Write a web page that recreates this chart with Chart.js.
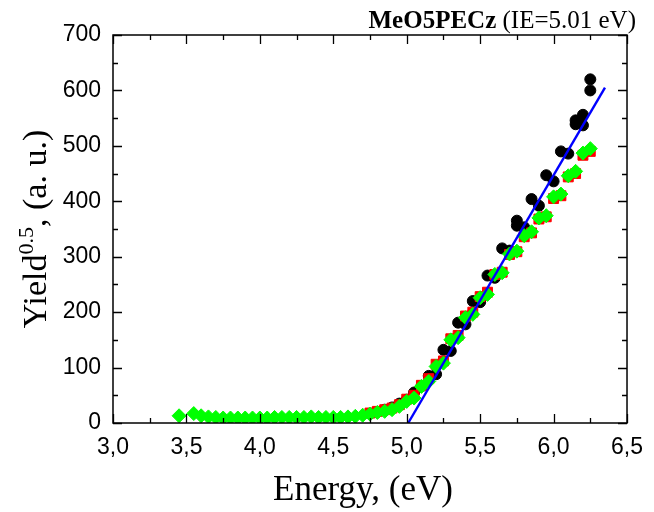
<!DOCTYPE html>
<html>
<head>
<meta charset="utf-8">
<script src="https://cdn.jsdelivr.net/npm/chart.js@4.4.1/dist/chart.umd.min.js"></script>
<style>
html,body{margin:0;padding:0;background:#fff;}
#wrap{width:654px;height:512px;}
</style>
</head>
<body>
<div id="wrap"><canvas id="c" width="654" height="512"></canvas></div>
<script>
// ---- data ----
const greenE = [3.45,3.55,3.60,3.65,3.70,3.75,3.80,3.85,3.90,3.95,4.00,4.05,4.10,4.15,4.20,4.25,4.30,4.35,4.40,4.45,4.50,4.55,4.60,4.65,4.70,
                4.75,4.80,4.85,4.90,4.95,5.00,5.05,5.10,5.15,5.20,5.25,5.30,5.35,5.40,5.45,5.50,5.55,5.60,5.65,5.70,5.75,5.80,5.85,5.90,5.95,6.00,6.05,6.10,6.15,6.20,6.25];
const greenY = [13,17,13,11,10,9,9,9,9,9,9,9,10,10,10,10,10,11,10,10,10,10,11,12,14,
                16,19,21,24,30,39,45,66,75,102,108,150,154,190,196,226,232,268,271,305,310,338,345,370,374,408,413,446,454,487,495];

const redE = [4.75,4.80,4.85,4.90,4.95,5.00,5.05,5.10,5.15,5.20,5.25,5.30,5.35,5.40,5.45,5.50,5.55,5.60,5.65,5.70,5.75,5.80,5.85,5.90,5.95,6.00,6.05,6.10,6.15,6.20,6.25];
const redY = [18,21,24,27,33,43,50,68,80,106,112,152,158,193,200,228,236,268,272,304,309,336,343,368,372,405,410,444,450,483,490];

const blackE = [4.75,4.80,4.85,4.90,4.95,5.00,5.05,5.10,5.15,5.20,5.25,5.30,5.35,5.40,5.45,5.50,5.55,5.60,5.65,5.70,5.75,5.80,5.85,5.90,5.95,6.00,6.05,6.10,6.15,6.20,6.25,
                5.75,6.15,6.20,6.25];
const blackY = [17,20,24,28,35,42,55,66,85,88,132,130,181,178,220,218,266,262,315,311,365,353,404,392,447,436,490,486,546,556,620,
                356,539,537,600];

const fitE = [5.01, 6.35];
const fitY = [0, 605];

const xTickMin = 3.0, xTickMax = 6.5, xTickStep = 0.5;
const yTickMin = 0, yTickMax = 700, yTickStep = 100;

const titleBold = 'MeO5PECz';
const titleRest = ' (IE=5.01 eV)';
const xTitle = 'Energy, (eV)';
const yTitleMain = 'Yield';
const yTitleSup = '0.5';
const yTitleRest = ', (a. u.)';

const pts = (xs, ys) => xs.map((x, i) => ({x: x, y: ys[i]}));

const SERIF = '"Liberation Serif", "Times New Roman", serif';
const SANS = '"Liberation Sans", Arial, sans-serif';

const framePlugin = {
  id: 'frameAndTexts',
  afterDraw(chart) {
    const ctx = chart.ctx;
    const a = chart.chartArea;
    const xs = chart.scales.x, ys = chart.scales.y;
    ctx.save();
    ctx.strokeStyle = '#000';
    ctx.lineWidth = 1.5;
    ctx.strokeRect(a.left, a.top, a.right - a.left, a.bottom - a.top);
    ctx.lineWidth = 1.3;
    ctx.beginPath();
    const nx = Math.round((xTickMax - xTickMin) / (xTickStep / 2));
    for (let i = 0; i <= nx; i++) {
      const v = xTickMin + i * xTickStep / 2;
      const px = Math.round(xs.getPixelForValue(v)) + 0.5;
      const L = (i % 2 === 0) ? 9 : 5;
      ctx.moveTo(px, a.bottom); ctx.lineTo(px, a.bottom - L);
      ctx.moveTo(px, a.top); ctx.lineTo(px, a.top + L);
    }
    const ny = Math.round((yTickMax - yTickMin) / (yTickStep / 2));
    for (let i = 0; i <= ny; i++) {
      const v = yTickMin + i * yTickStep / 2;
      const py = Math.round(ys.getPixelForValue(v)) + 0.5;
      const L = (i % 2 === 0) ? 9 : 5;
      ctx.moveTo(a.left, py); ctx.lineTo(a.left + L, py);
      ctx.moveTo(a.right, py); ctx.lineTo(a.right - L, py);
    }
    ctx.stroke();

    ctx.fillStyle = '#000';
    // chart title (right aligned)
    ctx.textBaseline = 'alphabetic';
    const tf = 25;
    ctx.font = 'bold ' + tf + 'px ' + SERIF;
    const wb = ctx.measureText(titleBold).width;
    ctx.font = tf + 'px ' + SERIF;
    const wr = ctx.measureText(titleRest).width;
    const tx = 636 - wb - wr;
    ctx.font = 'bold ' + tf + 'px ' + SERIF;
    ctx.fillText(titleBold, tx, 28);
    ctx.font = tf + 'px ' + SERIF;
    ctx.fillText(titleRest, tx + wb, 28);

    // x title
    ctx.font = '35px ' + SERIF;
    ctx.textAlign = 'center';
    ctx.fillText(xTitle, 363, 500);

    // y title (rotated)
    ctx.textAlign = 'left';
    ctx.translate(46, 229);
    ctx.rotate(-Math.PI / 2);
    ctx.font = '34px ' + SERIF;
    const w1 = ctx.measureText(yTitleMain).width;
    const w3 = ctx.measureText(yTitleRest).width;
    ctx.font = '22px ' + SERIF;
    const w2 = ctx.measureText(yTitleSup).width;
    let sx = -(w1 + w2 + w3) / 2;
    ctx.font = '34px ' + SERIF;
    ctx.fillText(yTitleMain, sx, 0);
    ctx.font = '22px ' + SERIF;
    ctx.fillText(yTitleSup, sx + w1, -13);
    ctx.font = '34px ' + SERIF;
    ctx.fillText(yTitleRest, sx + w1 + w2, 0);
    ctx.restore();
  }
};

new Chart(document.getElementById('c'), {
  type: 'scatter',
  data: {
    datasets: [
      { label: 'fit', type: 'line', data: pts(fitE, fitY), borderColor: '#0000ff', borderWidth: 2.4,
        pointRadius: 0, fill: false, showLine: true },
      { label: 'green', data: pts(greenE, greenY), pointStyle: 'rectRot', pointRadius: 7,
        backgroundColor: '#00ff00', borderColor: '#00ff00', borderWidth: 1 },
      { label: 'red', data: pts(redE, redY), pointStyle: 'rect', pointRadius: 7,
        backgroundColor: '#ff0000', borderColor: '#ff0000', borderWidth: 1 },
      { label: 'black', data: pts(blackE, blackY), pointStyle: 'circle', pointRadius: 5.5,
        backgroundColor: '#000000', borderColor: '#000000', borderWidth: 1 }
    ]
  },
  options: {
    responsive: false,
    animation: false,
    devicePixelRatio: 1,
    layout: { padding: { left: 0, right: 21, top: 35, bottom: 0 } },
    plugins: { legend: { display: false }, tooltip: { enabled: false }, title: { display: false } },
    scales: {
      x: {
        type: 'linear', min: xTickMin, max: xTickMax,
        grid: { display: false, drawTicks: false },
        border: { display: false },
        ticks: { stepSize: xTickStep, padding: 11, color: '#000', font: { family: SANS, size: 23 },
                 callback: v => v.toFixed(1).replace('.', ',') },
        afterFit: s => { s.height = 89; }
      },
      y: {
        type: 'linear', min: yTickMin, max: yTickMax,
        grid: { display: false, drawTicks: false },
        border: { display: false },
        ticks: { stepSize: yTickStep, padding: 12, color: '#000', font: { family: SANS, size: 23 } },
        afterFit: s => { s.width = 113; }
      }
    }
  },
  plugins: [framePlugin]
});
</script>
</body>
</html>
